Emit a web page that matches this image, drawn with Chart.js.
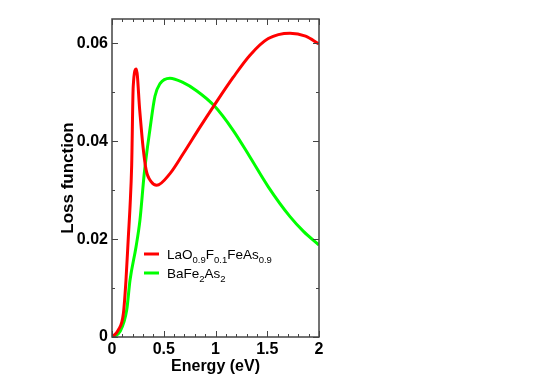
<!DOCTYPE html>
<html>
<head>
<meta charset="utf-8">
<script src="https://cdn.jsdelivr.net/npm/chart.js@4.4.1/dist/chart.umd.min.js"></script>
<style>
  html, body { margin: 0; padding: 0; background: #fff; }
  #wrap { width: 533px; height: 376px; }
</style>
</head>
<body>
<div id="wrap"><canvas id="myChart" width="533" height="376"></canvas></div>
<script>
// LaO0.9F0.1FeAs0.9 (red)
var laEnergy = [0, 0.06, 0.11, 0.135, 0.158, 0.175, 0.19, 0.205, 0.235, 0.268, 0.30, 0.33, 0.38, 0.432, 0.56, 0.689, 0.85, 0.986, 1.172, 1.333, 1.51, 1.72, 1.87, 2.0];
var laLoss   = [0, 0.0014, 0.0048, 0.0116, 0.0205, 0.027, 0.035, 0.0512, 0.0548, 0.0463, 0.0388, 0.0341, 0.0317, 0.0310, 0.0334, 0.0375, 0.0429, 0.0473, 0.0531, 0.0576, 0.0610, 0.0621, 0.0615, 0.0599];

// BaFe2As2 (green)
var baEnergy = [0, 0.077, 0.142, 0.174, 0.232, 0.27, 0.312, 0.367, 0.415, 0.464, 0.56, 0.68, 0.82, 0.986, 1.172, 1.333, 1.51, 1.72, 1.85, 2.0];
var baLoss   = [0, 0.0011, 0.0055, 0.0116, 0.0184, 0.0239, 0.0335, 0.0425, 0.0492, 0.0518, 0.0529, 0.0521, 0.0503, 0.0473, 0.0422, 0.0368, 0.0307, 0.0246, 0.0216, 0.0188];

var seriesLabels = ["LaO_{0.9}F_{0.1}FeAs_{0.9}", "BaFe_{2}As_{2}"];
var xTicks = [0, 0.5, 1, 1.5, 2];
var xMinor = [0.1, 0.2, 0.3, 0.4, 0.6, 0.7, 0.8, 0.9, 1.1, 1.2, 1.3, 1.4, 1.6, 1.7, 1.8, 1.9];
var yTicks = [0, 0.02, 0.04, 0.06];
var yMinor = [0.01, 0.03, 0.05];

function pts(xs, ys) {
    return xs.map(function(x, i) { return {x: x, y: ys[i]}; });
}

// frame with inward ticks on all four sides
var framePlugin = {
    id: 'frame',
    afterDraw: function(chart) {
        var c = chart.ctx, a = chart.chartArea;
        var sx = chart.scales.x, sy = chart.scales.y;
        c.save();
        c.strokeStyle = '#444';
        c.lineWidth = 1;
        function vt(v, len) {
            var p = Math.round(sx.getPixelForValue(v)) + 0.5;
            c.beginPath();
            c.moveTo(p, a.bottom); c.lineTo(p, a.bottom - len);
            c.moveTo(p, a.top); c.lineTo(p, a.top + len);
            c.stroke();
        }
        function ht(v, len) {
            var p = Math.round(sy.getPixelForValue(v)) + 0.5;
            c.beginPath();
            c.moveTo(a.left, p); c.lineTo(a.left + len, p);
            c.moveTo(a.right, p); c.lineTo(a.right - len, p);
            c.stroke();
        }
        xTicks.forEach(function(v) { vt(v, 6); });
        xMinor.forEach(function(v) { vt(v, 3); });
        yTicks.forEach(function(v) { ht(v, 6); });
        yMinor.forEach(function(v) { ht(v, 3); });
        c.lineWidth = 1.5;
        c.strokeRect(a.left, a.top, a.right - a.left, a.bottom - a.top);
        c.restore();
    }
};

// legend with subscripts
function drawRich(c, text, x, y) {
    var parts = text.split(/(_\{[^}]*\})/);
    parts.forEach(function(p) {
        if (!p) return;
        if (p.charAt(0) === '_') {
            var s = p.slice(2, -1);
            c.font = '9.5px "Liberation Sans", Arial, sans-serif';
            c.fillText(s, x, y + 4);
            x += c.measureText(s).width;
        } else {
            c.font = '13.5px "Liberation Sans", Arial, sans-serif';
            c.fillText(p, x, y);
            x += c.measureText(p).width;
        }
    });
}

var legendPlugin = {
    id: 'subLegend',
    afterDraw: function(chart) {
        var c = chart.ctx, a = chart.chartArea;
        c.save();
        c.textBaseline = 'alphabetic';
        c.fillStyle = '#000';
        chart.data.datasets.forEach(function(ds, i) {
            var y = a.top + 235 + i * 19;
            c.strokeStyle = ds.borderColor;
            c.lineWidth = 3;
            c.beginPath();
            c.moveTo(a.left + 32, y);
            c.lineTo(a.left + 47, y);
            c.stroke();
            drawRich(c, seriesLabels[i], a.left + 55, y + 5);
        });
        c.restore();
    }
};

var tickFont = {family: '"Liberation Sans", Arial, sans-serif', size: 16, weight: 'bold'};

var ctx = document.getElementById("myChart");
var myChart = new Chart(ctx, {
    type: 'line',
    data: {
        datasets: [
            {
                label: "LaO0.9F0.1FeAs0.9",
                data: pts(laEnergy, laLoss),
                borderColor: "#ff0000",
                borderWidth: 3,
                pointRadius: 0,
                cubicInterpolationMode: 'monotone',
                fill: false
            },
            {
                label: "BaFe2As2",
                data: pts(baEnergy, baLoss),
                borderColor: "#00ff00",
                borderWidth: 3,
                pointRadius: 0,
                cubicInterpolationMode: 'monotone',
                fill: false
            }
        ]
    },
    options: {
        responsive: false,
        animation: false,
        layout: { padding: { left: 54, right: 214, top: 19, bottom: 0 } },
        plugins: {
            legend: { display: false },
            tooltip: { enabled: false }
        },
        scales: {
            x: {
                type: 'linear',
                min: 0,
                max: 2,
                grid: { display: false, drawTicks: false },
                border: { display: false },
                afterBuildTicks: function(s) { s.ticks = xTicks.map(function(v) { return {value: v}; }); },
                afterFit: function(s) { s.height = 39; },
                ticks: {
                    color: '#000',
                    font: tickFont,
                    padding: 3,
                    maxRotation: 0,
                    callback: function(v) { return String(v); }
                },
                title: {
                    display: true,
                    text: 'Energy (eV)',
                    color: '#000',
                    font: {family: '"Liberation Sans", Arial, sans-serif', size: 16, weight: 'bold'},
                    padding: {top: 0, bottom: 0}
                }
            },
            y: {
                min: 0,
                max: 0.065,
                grid: { display: false, drawTicks: false },
                border: { display: false },
                afterBuildTicks: function(s) { s.ticks = yTicks.map(function(v) { return {value: v}; }); },
                afterFit: function(s) { s.width = 58; },
                ticks: {
                    color: '#000',
                    font: tickFont,
                    padding: 4,
                    callback: function(v) { return v === 0 ? '0' : v.toFixed(2); }
                },
                title: {
                    display: true,
                    text: 'Loss function',
                    color: '#000',
                    font: {family: '"Liberation Sans", Arial, sans-serif', size: 17, weight: 'bold'},
                    padding: {top: 4, bottom: 4}
                }
            }
        }
    },
    plugins: [framePlugin, legendPlugin]
});
</script>
</body>
</html>
